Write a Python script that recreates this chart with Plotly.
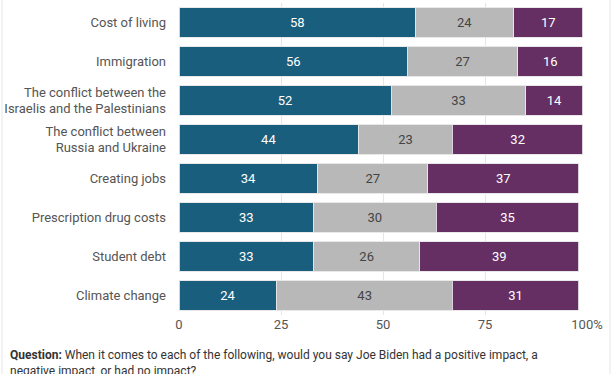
import plotly.graph_objects as go

categories = ["Cost of living", "Immigration",
              "The conflict between the<br>Israelis and the Palestinians",
              "The conflict between<br>Russia and Ukraine",
              "Creating jobs", "Prescription drug costs", "Student debt", "Climate change"]
positive = [58, 56, 52, 44, 34, 33, 33, 24]
no_impact = [24, 27, 33, 23, 27, 30, 26, 43]
negative = [17, 16, 14, 32, 37, 35, 39, 31]
tick_vals = [0, 25, 50, 75, 100]
tick_text = ["0", "25", "50", "75", "100%"]

series = [
    ("Positive", positive, "#195e7d", "white"),
    ("No impact", no_impact, "#b8b8b8", "#444444"),
    ("Negative", negative, "#652f63", "white"),
]

fig = go.Figure()
for name, vals, color, tcolor in series:
    fig.add_trace(go.Bar(
        y=categories, x=vals, name=name, orientation="h",
        marker=dict(color=color, line=dict(color="rgba(230,230,230,0.9)", width=1)),
        text=[str(v) for v in vals], textposition="inside", insidetextanchor="middle",
        textfont=dict(family="Roboto", size=13, color=tcolor),
        hoverinfo="skip",
    ))

fig.update_layout(
    barmode="stack", bargap=0.24, width=612, height=374,
    margin=dict(l=179, r=25, t=3, b=59),
    plot_bgcolor="white", paper_bgcolor="white", showlegend=False,
    font=dict(family="Roboto", size=13, color="#555555"),
    uniformtext=dict(mode="show", minsize=10),
)
fig.update_xaxes(range=[0, 100], tickvals=tick_vals, ticktext=tick_text,
                 showgrid=True, gridcolor="#e6e6e6", gridwidth=1, zeroline=False,
                 tickfont=dict(size=13, color="#555555"), ticks="", fixedrange=True)
fig.update_yaxes(autorange="reversed", showgrid=False, ticks="", ticklabelstandoff=12,
                 tickfont=dict(size=13, color="#555555"))

fig.add_annotation(xref="paper", yref="paper", x=-171/408, y=-0.1, xanchor="left", yanchor="top",
                   align="left", showarrow=False,
                   text="<b>Question:</b> When it comes to each of the following, would you say Joe Biden had a positive impact, a<br>negative impact, or had no impact?",
                   font=dict(size=12, color="#333333", family="Roboto"))
for xp in [-177/408, 431/408]:
    fig.add_shape(type="line", xref="paper", yref="paper", x0=xp, x1=xp, y0=-0.3, y1=1.02,
                  line=dict(color="#e6e6e6", width=1))

fig.write_html("out.html", config={"displayModeBar": False})
with open("out.html", encoding="utf-8") as f:
    html = f.read()
html = html.replace("<head>", "<head><style>html,body{margin:0;padding:0;overflow:hidden;}</style>", 1)
with open("out.html", "w", encoding="utf-8") as f:
    f.write(html)
